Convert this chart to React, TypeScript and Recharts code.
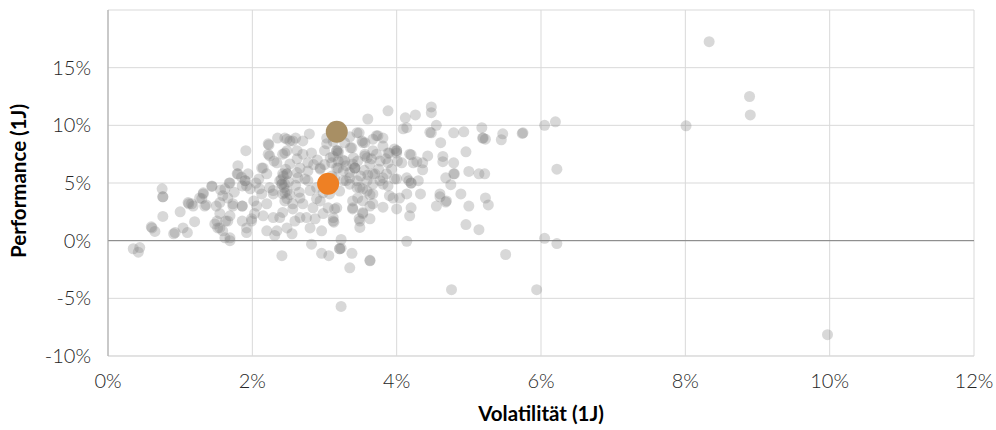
import {
  ScatterChart,
  Scatter,
  XAxis,
  YAxis,
  CartesianGrid,
  ReferenceLine,
} from 'recharts';

// [volatility %, performance %]
const lowVolPeers: [number, number][] = [
  [0.35, -0.7], [0.44, -0.6], [0.42, -1.0], [0.6, 1.2], [0.65, 0.8], [0.61, 1.1], [0.75, 4.5], [0.76, 3.8], [0.76, 3.8], [0.76, 2.1],
  [0.91, 0.6], [0.93, 0.7], [1.0, 2.5], [1.04, 1.1], [1.1, 0.7], [1.11, 3.3], [1.12, 3.2], [1.16, 3.2], [1.18, 3.0], [1.2, 1.65],
  [1.27, 3.7], [1.3, 3.65], [1.32, 4.05], [1.32, 4.15], [1.34, 3.0], [1.36, 3.1], [1.44, 4.7], [1.44, 4.75], [1.48, 1.45], [1.5, 3.0],
  [1.51, 1.7], [1.52, 1.1], [1.55, 2.35], [1.55, 3.3], [1.55, 1.1], [1.56, 4.4], [1.59, 0.85], [1.59, 3.9], [1.62, 0.25], [1.62, 4.5],
  [1.63, 1.7], [1.66, 3.7], [1.66, 1.7], [1.68, 5.0], [1.69, 0.0], [1.69, 2.15], [1.69, 5.0], [1.69, 0.25], [1.73, 3.0], [1.73, 3.2],
  [1.79, 5.8], [1.8, 5.8], [1.8, 6.5], [1.86, 3.0], [1.86, 3.0], [1.86, 4.75], [1.86, 1.7], [1.9, 5.2], [1.9, 5.2], [1.91, 7.8],
  [1.92, 4.75], [1.92, 1.1], [1.92, 0.7], [1.94, 5.8], [1.97, 4.5], [1.99, 1.7], [1.99, 1.9], [1.75, 4.2], [1.85, 5.5],
];

const midVolPeers: [number, number][] = [
  [2.02, 3.45], [2.03, 2.35], [2.06, 3.0], [2.09, 5.35], [2.13, 6.3], [2.13, 4.05], [2.15, 2.15], [2.15, 6.3], [2.2, 0.85], [2.2, 3.2],
  [2.22, 8.4], [2.22, 7.5], [2.23, 8.3], [2.24, 4.6], [2.24, 7.35], [2.29, 4.05], [2.29, 4.35], [2.29, 2.0], [2.31, 0.45], [2.34, 6.75],
  [2.34, 0.85], [2.38, 2.0], [2.38, 5.2], [2.41, -1.3], [2.41, 4.9], [2.41, 4.9], [2.42, 7.5], [2.42, 4.05], [2.42, 2.45], [2.42, 5.8],
  [2.43, 5.6], [2.45, 4.15], [2.45, 8.9], [2.45, 7.6], [2.45, 4.9], [2.45, 3.45], [2.48, 3.65], [2.48, 7.8], [2.48, 5.8], [2.48, 5.8],
  [2.48, 1.1], [2.48, 8.8], [2.48, 4.3], [2.52, 8.65], [2.52, 6.65], [2.55, 0.6], [2.56, 3.2], [2.56, 8.65], [2.56, 2.75], [2.59, 1.7],
  [2.62, 7.1], [2.62, 5.9], [2.62, 7.8], [2.63, 5.45], [2.66, 2.0], [2.66, 6.3], [2.66, 3.7], [2.7, 8.65], [2.7, 7.5], [2.7, 3.2],
  [2.73, 5.35], [2.75, 2.0], [2.77, 6.75], [2.77, 6.05], [2.77, 5.2], [2.79, 9.25], [2.8, 1.1], [2.8, 4.35], [2.82, -0.3], [2.82, 7.6],
  [2.84, 2.85], [2.87, 1.9], [2.89, 4.6], [2.89, 3.65], [2.94, 6.2], [2.94, 3.45], [2.94, 6.3], [2.96, 0.85], [2.96, -1.1], [2.98, 2.35],
  [2.98, 4.15], [2.4, 5.3], [2.44, 4.6], [2.5, 5.1], [2.46, 6.2], [2.52, 4.0], [2.6, 4.8], [2.65, 4.2], [2.85, 6.6], [2.9, 7.0],
  [2.2, 5.8], [2.3, 6.9], [2.05, 5.0], [2.1, 4.5], [2.35, 8.9], [2.6, 8.9],
];

const upperMidPeers: [number, number][] = [
  [3.03, 8.4], [3.03, 8.9], [3.05, 2.85], [3.06, -1.3], [3.07, 4.05], [3.1, 6.75], [3.12, 1.7], [3.12, 2.0], [3.12, 7.3], [3.13, 1.6],
  [3.14, 2.75], [3.14, 5.45], [3.17, 7.8], [3.17, 7.8], [3.17, 6.3], [3.17, 2.85], [3.19, 6.9], [3.19, 7.8], [3.19, 7.6], [3.19, 6.3],
  [3.21, -0.7], [3.21, -0.7], [3.21, 4.3], [3.23, 0.1], [3.23, -0.65], [3.23, -5.7], [3.26, 6.05], [3.26, 5.2], [3.28, 8.5], [3.28, 6.9],
  [3.3, 5.2], [3.35, 5.45], [3.35, 9.0], [3.35, 4.9], [3.35, -2.35], [3.36, 8.05], [3.38, -1.1], [3.38, 8.05], [3.39, 3.45], [3.39, 2.75],
  [3.39, 2.85], [3.39, 6.65], [3.42, 6.3], [3.42, 6.3], [3.42, 6.3], [3.45, 9.35], [3.45, 4.6], [3.46, 6.9], [3.46, 3.7], [3.48, 9.35],
  [3.48, 1.9], [3.49, 1.15], [3.49, 1.7], [3.49, 4.6], [3.52, 8.65], [3.53, 8.5], [3.53, 2.35], [3.53, 4.5], [3.53, 2.45], [3.53, 3.45],
  [3.56, 8.5], [3.56, 7.35], [3.56, 7.5], [3.59, 7.2], [3.59, 5.2], [3.59, 4.3], [3.6, 10.55], [3.63, -1.7], [3.63, -1.75], [3.63, 3.0],
  [3.63, 4.0], [3.63, 1.9], [3.63, 6.65], [3.65, 7.1], [3.67, 3.2], [3.67, 4.05], [3.67, 5.8], [3.67, 8.8], [3.67, 7.8], [3.67, 4.9],
  [3.7, 5.8], [3.72, 7.5], [3.72, 9.1], [3.74, 9.1], [3.77, 5.2], [3.77, 6.9], [3.81, 8.2], [3.81, 5.45], [3.81, 2.9], [3.81, 8.9],
  [3.81, 4.9], [3.86, 5.8], [3.88, 11.26], [3.88, 7.6], [3.88, 6.75], [3.88, 4.75], [3.9, 3.9], [3.9, 7.6], [3.93, 6.2], [3.95, 3.7],
  [3.97, 7.95], [3.97, 5.35], [3.0, 6.6], [3.08, 7.2], [3.25, 7.0], [3.3, 6.5], [3.4, 7.2], [3.35, 5.9], [3.45, 5.2], [3.55, 6.1],
  [3.6, 5.7], [3.1, 5.6], [3.0, 7.8], [3.12, 8.6], [3.75, 6.2], [3.85, 7.1], [3.5, 5.6],
];

const highVolPeers: [number, number][] = [
  [4.0, 7.6], [4.0, 5.35], [4.0, 2.75], [4.0, 7.8], [4.0, 7.8], [4.01, 6.9], [4.04, 3.7], [4.07, 6.75], [4.09, 9.7], [4.12, 10.65],
  [4.14, 9.8], [4.14, 4.05], [4.14, 5.45], [4.14, -0.05], [4.17, 5.2], [4.18, 2.15], [4.18, 7.5], [4.2, 2.85], [4.2, 7.45], [4.2, 5.0],
  [4.2, 5.0], [4.23, 6.75], [4.26, 10.9], [4.28, 6.85], [4.3, 5.2], [4.33, 4.05], [4.36, 6.15], [4.36, 6.75], [4.43, 7.35], [4.46, 9.4],
  [4.48, 11.6], [4.48, 11.1], [4.48, 9.35], [4.55, 10.0], [4.55, 3.0], [4.6, 3.8], [4.6, 4.05], [4.61, 8.5], [4.64, 7.3], [4.64, 6.85],
  [4.68, 5.45], [4.68, 3.35], [4.69, 3.45], [4.75, 4.85], [4.76, -4.25], [4.79, 9.35], [4.79, 6.75], [4.79, 5.8], [4.8, 5.8], [4.89, 4.05],
  [4.93, 9.44], [4.96, 7.7], [4.96, 1.4], [5.0, 6.0], [5.0, 3.0], [5.14, 5.8], [5.14, 0.95], [5.18, 9.8], [5.19, 8.9], [5.2, 8.9],
  [5.23, 8.8], [5.22, 5.8], [5.23, 3.7], [5.27, 3.1], [5.45, 8.75], [5.47, 9.26], [5.51, -1.2], [5.74, 9.3], [5.75, 9.35], [5.94, -4.25],
  [6.05, 10.0], [6.05, 0.2], [6.2, 10.3], [6.22, 6.2], [6.22, -0.25],
];

const outlierPeers: [number, number][] = [
  [8.01, 9.96], [8.33, 17.25], [8.89, 12.5], [8.9, 10.9], [9.97, -8.15],
];

const fundA: [number, number] = [3.17, 9.44];
const fundB: [number, number] = [3.05, 4.94];

const xTicks = [0, 2, 4, 6, 8, 10, 12];
const yTicks = [-10, -5, 0, 5, 10, 15, 20];

const toRows = (pts: [number, number][]) => pts.map(([vol, perf]) => ({ vol, perf }));

const peers = toRows([
  ...lowVolPeers,
  ...midVolPeers,
  ...upperMidPeers,
  ...highVolPeers,
  ...outlierPeers,
]);

const font = 'Lato, "Open Sans", sans-serif';
const tickStyle = { fill: '#262626', fontSize: 20, fontFamily: font, fontWeight: 300 };

const dot = (r: number, fill: string, opacity: number) => (props: any) =>
  <circle cx={props.cx} cy={props.cy} r={r} fill={fill} fillOpacity={opacity} />;

export default function App() {
  return (
    <div style={{ position: 'absolute', left: 0, top: 0, background: '#fff' }}>
      <ScatterChart
        width={996}
        height={430}
        margin={{ top: 10, right: 22, left: 0, bottom: 0 }}
      >
        <CartesianGrid stroke="#d9d9d9" strokeWidth={1} />
        <XAxis
          type="number"
          dataKey="vol"
          domain={[0, 12]}
          ticks={xTicks}
          height={74}
          tickLine={false}
          tickSize={0}
          tickMargin={18}
          axisLine={{ stroke: '#d9d9d9' }}
          tickFormatter={(v) => `${v}%`}
          tick={tickStyle}
          label={({ viewBox }: any) => (
            <text
              x={viewBox.x + viewBox.width / 2}
              y={viewBox.y + 65}
              textAnchor="middle"
              fontFamily={font}
              fontWeight={700}
              fontSize={20.5}
              fill="#000"
            >
              Volatilität (1J)
            </text>
          )}
        />
        <YAxis
          type="number"
          dataKey="perf"
          domain={[-10, 20]}
          ticks={yTicks}
          width={108}
          tickLine={false}
          tickSize={0}
          tickMargin={17}
          axisLine={{ stroke: '#a6a6a6' }}
          tickFormatter={(v) => (v === 20 ? '' : `${v}%`)}
          tick={tickStyle}
          label={({ viewBox }: any) => {
            const cy = viewBox.y + viewBox.height / 2 - 2;
            return (
              <text
                x={26}
                y={cy}
                transform={`rotate(-90 26 ${cy})`}
                textAnchor="middle"
                fontFamily={font}
                fontWeight={700}
                fontSize={20.5}
                fill="#000"
              >
                Performance (1J)
              </text>
            );
          }}
        />
        <ReferenceLine y={0} stroke="#808080" strokeWidth={1} />
        <Scatter
          data={peers}
          shape={dot(5.5, '#7f7f7f', 0.3)}
          isAnimationActive={false}
        />
        <Scatter
          data={toRows([fundA])}
          shape={dot(11, '#a88f64', 1)}
          isAnimationActive={false}
        />
        <Scatter
          data={toRows([fundB])}
          shape={dot(11, '#ee8024', 1)}
          isAnimationActive={false}
        />
      </ScatterChart>
    </div>
  );
}
